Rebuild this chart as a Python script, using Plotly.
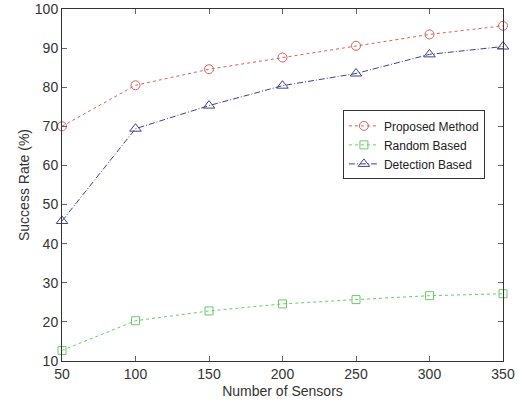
import plotly.graph_objects as go

sensors = [50, 100, 150, 200, 250, 300, 350]
proposed = [70.0, 80.5, 84.6, 87.6, 90.6, 93.5, 95.7]
random_based = [12.7, 20.3, 22.8, 24.6, 25.7, 26.7, 27.2]
detection = [45.8, 69.4, 75.3, 80.4, 83.5, 88.4, 90.4]

x_ticks = [50, 100, 150, 200, 250, 300, 350]
y_ticks = [10, 20, 30, 40, 50, 60, 70, 80, 90, 100]

FONT = "Liberation Sans, Arial"

fig = go.Figure()
fig.add_trace(go.Scatter(
    x=sensors, y=proposed, name="Proposed Method", mode="lines+markers",
    line=dict(color="#d4625c", width=1, dash="3px,3px"),
    marker=dict(symbol="circle-open", size=9, color="#d4625c", line=dict(width=1)),
))
fig.add_trace(go.Scatter(
    x=sensors, y=random_based, name="Random Based", mode="lines+markers",
    line=dict(color="#66cc66", width=1, dash="dot"),
    marker=dict(symbol="square-open", size=8, color="#66cc66", line=dict(width=1)),
))
fig.add_trace(go.Scatter(
    x=sensors, y=detection, name="Detection Based", mode="lines+markers",
    line=dict(color="#40408f", width=1, dash="6px,2px,1px,2px"),
    marker=dict(symbol="triangle-up-open", size=10, color="#40408f", line=dict(width=1)),
))

axis_common = dict(
    showgrid=False, zeroline=False, showline=True, linecolor="#333333", linewidth=1,
    mirror="ticks", ticks="inside", ticklen=5, tickcolor="#666666",
    automargin=False,
    tickfont=dict(family=FONT, size=14, color="#333333"),
)

fig.update_layout(
    width=526, height=405,
    margin=dict(l=62, r=23, t=9, b=44),
    paper_bgcolor="white", plot_bgcolor="white",
    showlegend=True,
    legend=dict(
        x=0.637, y=0.712, xanchor="left", yanchor="top",
        bordercolor="#333333", borderwidth=1, bgcolor="white",
        font=dict(family=FONT, size=12, color="#222222"),
        tracegroupgap=0, itemwidth=30,
    ),
    xaxis=dict(range=[50, 350], tickvals=x_ticks, title=dict(
        text="Number of Sensors", standoff=5,
        font=dict(family=FONT, size=14, color="#333333")), **axis_common),
    yaxis=dict(range=[10, 100], tickvals=y_ticks, title=dict(
        text="Success Rate (%)", standoff=1,
        font=dict(family=FONT, size=14, color="#333333")), **axis_common),
)
for tr in fig.data:
    tr.cliponaxis = False

fig.write_html("out.html", config={"displayModeBar": False},
               post_script="document.body.style.margin='0';")
